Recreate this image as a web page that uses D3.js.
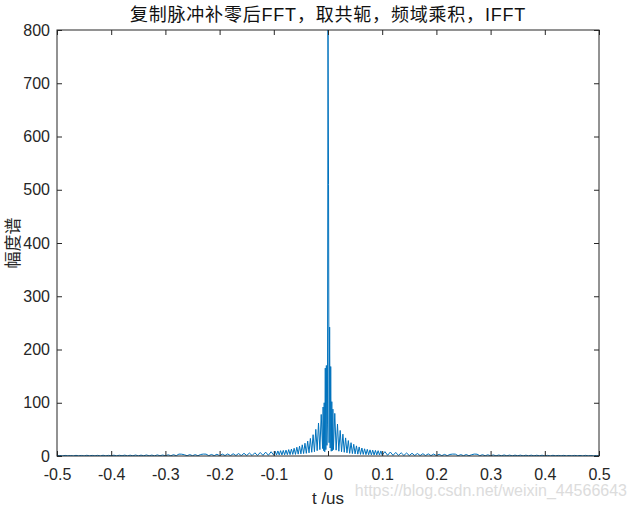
<!DOCTYPE html>
<html>
<head>
<meta charset="utf-8">
<script src="https://cdn.jsdelivr.net/npm/d3@7"></script>
<style>
  body { margin: 0; background: #fff; }
  text { font-family: "Liberation Sans", Arial, sans-serif; }
</style>
</head>
<body>
<svg id="chart" width="630" height="508"></svg>
<script>
// amplitude values, segment by segment
const leftTail = [
  0.3,1.0,0.2,1.1,0.4,0.9,0.2,1.2,0.3,1.0,0.2,1.3,0.4,1.1,0.3,1.2,0.2,1.4,0.3,1.2,0.4,
  1.5,0.3,1.4,0.5,1.6,0.3,1.5,0.4,1.8,0.3,1.6,0.5,1.9,0.4,1.7,0.3,2.0,0.5,1.8,0.4,
  2.2,0.5,2.4,0.6,3.6,3.4,2.3,0.5,2.6,0.6,2.5,0.5,2.8,3.6,3.5,0.6,2.9,0.7,3.2,0.6,
  3.6,0.8,3.9,0.7,4.2,0.9,4.6,0.8,5.0,1.0,5.5,0.9,6.0,1.1,6.6,1.2,7.2,1.3,8.0
];
const leftNear = [
  1.5,9,1.8,9.5,2,10,2,10.5,2.2,11,2.5,12,2.6,13,3,14.5,3,16.5,
  3.5,18.5,4,21,4.5,24,5,28,6,33,7,40,8,50,10,62,12,78
];
const center = [
  14,92,10,100,8,165,12,170,20,60,800,510,25,242,15,168,9,102,10,88,12
];
const rightNear = [
  80,11,60,9,48,8,41,7,34,6,29,5,25,4.5,22,4,19,3.5,17,3,
  15,3,13.5,2.6,12.5,2.4,11.5,2.2,11,2,10.5,2,10,1.8,9.5,1.5
];
const rightTail = [
  8.2,1.3,7.4,1.2,6.7,1.1,6.1,1.0,5.6,0.9,5.1,1.0,4.7,0.8,4.3,0.9,4.0,0.7,3.7,
  0.6,3.3,0.7,3.0,0.6,2.9,3.6,3.5,0.5,2.6,0.6,2.7,0.5,2.4,3.6,3.4,0.6,2.4,0.5,2.2,
  0.4,2.0,0.3,1.8,0.5,1.9,0.4,1.7,0.3,1.6,0.5,1.6,0.3,1.5,0.4,1.5,0.3,1.4,0.5,1.4,
  0.3,1.2,0.2,1.3,0.4,1.1,0.3,1.2,0.2,1.0,0.3,1.1,0.4,1.0,0.2,1.2,0.3,0.9,0.2,1.0,0.3
];

// sampling time grid (us) of each segment: start and step
const segments = [
  { start: -0.5, step: 0.005, values: leftTail },
  { start: -0.1, step: 0.0025, values: leftNear },
  { start: -0.01, step: 0.001, values: center },
  { start: 0.0125, step: 0.0025, values: rightNear },
  { start: 0.105, step: 0.005, values: rightTail }
];

const xTicks = [-0.5, -0.4, -0.3, -0.2, -0.1, 0, 0.1, 0.2, 0.3, 0.4, 0.5];
const yTicks = [0, 100, 200, 300, 400, 500, 600, 700, 800];

const titleText = "复制脉冲补零后FFT，取共轭，频域乘积，IFFT";
const xLabel = "t /us";
const yLabel = "幅度谱";

const points = [];
segments.forEach((s) => {
  s.values.forEach((v, i) => points.push([+(s.start + i * s.step).toFixed(5), v]));
});

const margin = { left: 57, top: 30, right: 31, bottom: 52 };
const W = 630, H = 508;
const svg = d3.select("#chart");

const x = d3.scaleLinear().domain([-0.5, 0.5]).range([margin.left, W - margin.right]);
const y = d3.scaleLinear().domain([0, 800]).range([H - margin.bottom, margin.top]);

svg.append("defs").append("clipPath").attr("id", "clip")
  .append("rect")
  .attr("x", margin.left).attr("y", margin.top)
  .attr("width", x.range()[1] - margin.left)
  .attr("height", y.range()[0] - margin.top);

svg.append("path")
  .datum(points)
  .attr("clip-path", "url(#clip)")
  .attr("fill", "none")
  .attr("stroke", "#0072BD")
  .attr("stroke-width", 1)
  .attr("d", d3.line().x((d) => x(d[0])).y((d) => y(d[1])));

const fmt = (d) => String(d);
const axisColor = "#262626";

const styleAxis = (g) => {
  g.select(".domain").remove();
  g.selectAll(".tick line").attr("stroke", axisColor);
  g.selectAll(".tick text").attr("fill", axisColor).style("font-size", "16px");
};

svg.append("g")
  .attr("transform", `translate(0,${y(0)})`)
  .call(d3.axisBottom(x).tickValues(xTicks).tickFormat(fmt).tickSizeInner(-5).tickSizeOuter(0).tickPadding(13))
  .call(styleAxis);
svg.append("g")
  .attr("transform", `translate(0,${y(800)})`)
  .call(d3.axisTop(x).tickValues(xTicks).tickFormat("").tickSizeInner(-5).tickSizeOuter(0))
  .call(styleAxis);
svg.append("g")
  .attr("transform", `translate(${x(-0.5)},0)`)
  .call(d3.axisLeft(y).tickValues(yTicks).tickFormat(fmt).tickSizeInner(-5).tickSizeOuter(0).tickPadding(7))
  .call(styleAxis);
svg.append("g")
  .attr("transform", `translate(${x(0.5)},0)`)
  .call(d3.axisRight(y).tickValues(yTicks).tickFormat("").tickSizeInner(-5).tickSizeOuter(0))
  .call(styleAxis);

svg.append("rect")
  .attr("x", x(-0.5)).attr("y", y(800))
  .attr("width", x(0.5) - x(-0.5)).attr("height", y(0) - y(800))
  .attr("fill", "none").attr("stroke", axisColor).attr("stroke-width", 1);

svg.append("text")
  .attr("x", (x(-0.5) + x(0.5)) / 2).attr("y", 21)
  .attr("text-anchor", "middle")
  .style("font-family", "'Liberation Sans', 'Noto Sans CJK SC', sans-serif")
  .style("font-size", "18px").style("letter-spacing", "0.8px").attr("fill", "#111")
  .text(titleText);

svg.append("text")
  .attr("x", (x(-0.5) + x(0.5)) / 2).attr("y", 504)
  .attr("text-anchor", "middle")
  .style("font-size", "17px").attr("fill", axisColor)
  .text(xLabel);

svg.append("text")
  .attr("transform", `translate(11,${(y(0) + y(800)) / 2}) rotate(-90)`)
  .attr("text-anchor", "middle")
  .attr("dominant-baseline", "central")
  .style("font-family", "'Noto Sans CJK SC', sans-serif")
  .style("font-size", "17px").attr("fill", axisColor)
  .text(yLabel);

// watermark
svg.append("text")
  .attr("x", 627).attr("y", 496)
  .attr("text-anchor", "end")
  .style("font-size", "16px").attr("fill", "#dcdcdc")
  .text("https://blog.csdn.net/weixin_44566643");
</script>
</body>
</html>
